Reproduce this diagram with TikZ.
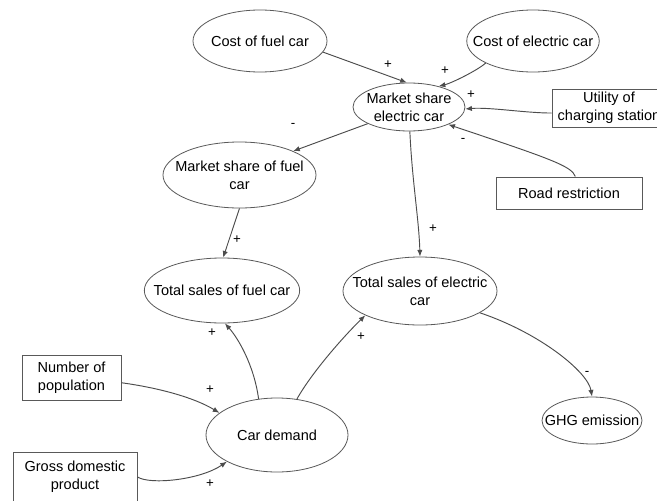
\documentclass[tikz,border=0pt]{standalone}
\usepackage{fontspec}
\setmainfont{Liberation Sans}
\usetikzlibrary{arrows.meta,shapes.geometric}

\begin{document}
\begin{tikzpicture}[x=0.75pt,y=-0.75pt,>=Latex,
  var/.style={ellipse,draw=black!65,line width=0.6pt,inner xsep=-10pt,inner ysep=-6pt,
    align=center,font=\fontsize{10.9}{13.5}\selectfont},
  ext/.style={rectangle,draw=black!65,line width=0.75pt,inner sep=1pt,
    align=center,font=\fontsize{10.9}{13.5}\selectfont},
  link/.style={draw=black!70,line width=0.7pt,-{Latex[length=5pt,width=4pt]}},
  sign/.style={inner sep=0pt,font=\fontsize{10}{12}\selectfont}]
\clip (0,0) rectangle (657,500);
\fill[white] (0,0) rectangle (657,500);
\node[var,minimum width=100.5pt,minimum height=46.5pt] (cfuel) at (260,41) {Cost of fuel car};
\node[var,minimum width=97.5pt,minimum height=46.5pt] (celec) at (533,41) {Cost of electric car};
\node[var,minimum width=84pt,minimum height=36pt] (mse) at (409,107) {Market share\\electric car};
\node[ext,minimum width=85.5pt,minimum height=28.5pt] (util) at (609,108) {Utility of\\charging station};
\node[var,minimum width=114.75pt,minimum height=49.5pt] (msf) at (239.5,175) {Market share of fuel\\car};
\node[ext,minimum width=109.5pt,minimum height=24pt] (road) at (569,193) {Road restriction};
\node[var,minimum width=114pt,minimum height=48.75pt] (tsf) at (222,290.5) {Total sales of fuel car};
\node[var,minimum width=115.5pt,minimum height=51pt] (tse) at (420,291) {Total sales of electric\\car};
\node[ext,minimum width=74.25pt,minimum height=33.75pt] (pop) at (71.5,377.5) {Number of\\population};
\node[var,minimum width=106.5pt,minimum height=55.5pt] (cdem) at (277,435) {Car demand};
\node[var,minimum width=75pt,minimum height=35.25pt] (ghg) at (592,420.5) {GHG emission};
\node[ext,minimum width=93pt,minimum height=37.5pt] (gdp) at (75,477) {Gross domestic\\product};

\draw[link] (cfuel.-10) -- (mse.95);
\draw[link] (celec.205) .. controls (478,70) and (452,83) .. (mse.35);
\draw[link] (util.185) .. controls (525,113) and (490,107) .. (mse.-2);
\draw[link] (road.69) .. controls (572,166) and (548,158) .. (mse.-24);
\draw[link] (mse.202) -- (msf.24);
\draw[link] (mse.-88) .. controls (412,180) and (419,220) .. (tse.north);
\draw[link] (msf.south) -- (tsf.88);
\draw[link] (cdem.117) .. controls (254,365) and (238,338) .. (tsf.-85);
\draw[link] (cdem.61) .. controls (312,372) and (345,335) .. (tse.204);
\draw[link] (tse.-20) .. controls (540,333) and (588,372) .. (ghg.north);
\draw[link] (pop.-6) .. controls (160,388) and (195,398) .. (cdem.159);
\draw[link] (gdp.east) .. controls (150,485) and (200,480) .. (cdem.208);

\node[sign] (sg1) at (388,65) {+};
\node[sign] (sg2) at (445,71) {+};
\node[sign] (sg3) at (471,95) {+};
\node[sign] (sg4) at (463,140) {-};
\node[sign] (sg5) at (293,125) {-};
\node[sign] (sg6) at (433,229) {+};
\node[sign] (sg7) at (237,240) {+};
\node[sign] (sg8) at (212,333) {+};
\node[sign] (sg9) at (361,337) {+};
\node[sign] (sg10) at (587,373) {-};
\node[sign] (sg11) at (210,390) {+};
\node[sign] (sg12) at (210,484) {+};
\end{tikzpicture}
\end{document}
